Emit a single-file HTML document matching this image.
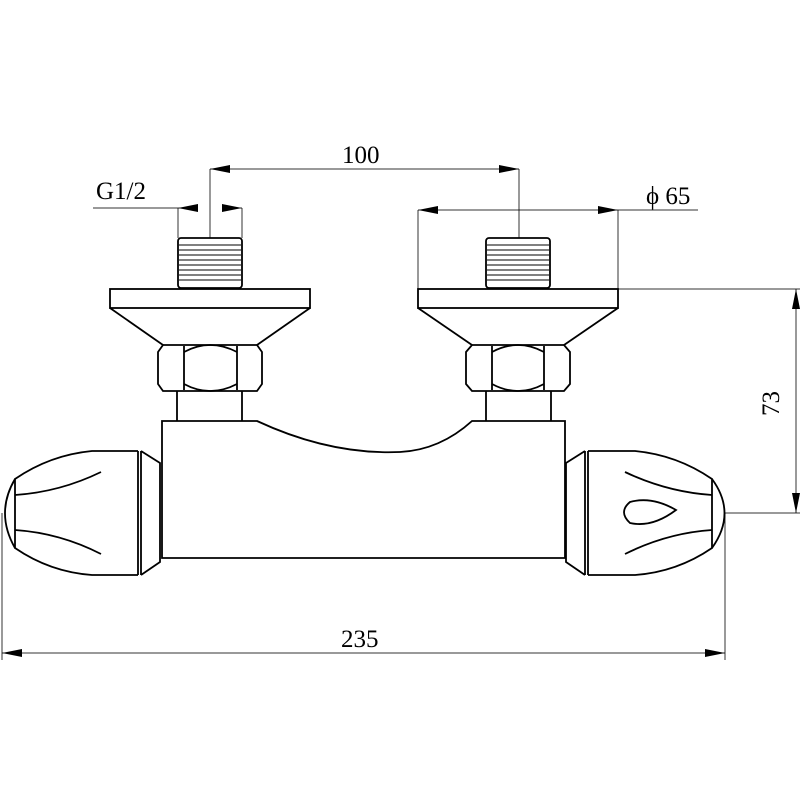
<!DOCTYPE html>
<html><head><meta charset="utf-8"><style>html,body{margin:0;padding:0;background:#fff}svg{display:block}</style></head><body>
<svg width="800" height="800" viewBox="0 0 800 800" xmlns="http://www.w3.org/2000/svg">
<defs>
<marker id="a" viewBox="0 0 20 8" refX="20" refY="4" markerWidth="20" markerHeight="8" markerUnits="userSpaceOnUse" orient="auto-start-reverse"><path d="M0,0 L20,4 L0,8 Z" fill="#000"/></marker>
</defs>
<g fill="none" stroke="#000" stroke-width="1.8">
<!-- left assembly -->
<rect x="178" y="238" width="64" height="50" rx="3"/>
<g stroke-width="1"><path d="M179,245H241M179,250H241M179,255H241M179,260H241M179,265H241M179,270H241M179,275H241M179,280H241"/></g>
<rect x="110" y="289" width="200" height="19"/>
<path d="M110,308 L163,345 M310,308 L257,345"/>
<path d="M163,345 H257 L262,352 V384 L257,391 H163 L158,384 V352 Z"/>
<path d="M184,346 V390 M237,346 V390"/>
<path d="M184,352 Q210,338 237,352 M184,384 Q210,398 237,384"/>
<path d="M177,391 V421 M242,391 V421"/>
<!-- right assembly -->
<rect x="486" y="238" width="64" height="50" rx="3"/>
<g stroke-width="1"><path d="M487,245H549M487,250H549M487,255H549M487,260H549M487,265H549M487,270H549M487,275H549M487,280H549"/></g>
<rect x="418" y="289" width="200" height="19"/>
<path d="M418,308 L472,345 M618,308 L564,345"/>
<path d="M472,345 H564 L570,352 V384 L564,391 H472 L466,384 V352 Z"/>
<path d="M492,346 V390 M544,346 V390"/>
<path d="M492,352 Q518,338 544,352 M492,384 Q518,398 544,384"/>
<path d="M486,391 V421 M551,391 V421"/>
<!-- body -->
<path d="M162,558 V421 H257 Q330,455 400,452 Q440,450 472,421 H565 V558 Z"/>
<!-- left knob -->
<path d="M138,451 V575 M141,451 V575"/>
<path d="M141,451 L160,463 V562 L141,575"/>
<path d="M138,451 H92 Q50,455 15,479 V548 Q50,572 92,575 H138"/>
<path d="M15,479 Q-5,513 15,548"/>
<path d="M15,495 Q60,492 101,472 M15,530 Q60,533 101,554"/>
<!-- right knob -->
<path d="M585,451 V575 M588,451 V575"/>
<path d="M585,451 L566,463 V562 L585,575"/>
<path d="M588,451 H635 Q677,455 712,479 V548 Q677,572 635,575 H588"/>
<path d="M712,479 Q737,513 712,548"/>
<path d="M712,495 Q667,492 625,472 M712,530 Q667,533 625,554"/>
<path d="M630,502 Q652,496 676,510 Q652,528 630,523 Q618,512 630,502 Z"/>
</g>
<g fill="none" stroke="#000" stroke-width="1" stroke-opacity="0.8">
<path d="M210,169 V238 M519,169 V238"/>
<path d="M210,169 H519" marker-start="url(#a)" marker-end="url(#a)"/>
<path d="M178,208 V238 M242,208 V238"/>
<path d="M93,208 H178"/>
<path d="M198,208 H178" marker-end="url(#a)"/>
<path d="M222,208 H242" marker-end="url(#a)"/>
<path d="M418,210 V289 M618,210 V289"/>
<path d="M418,210 H618" marker-start="url(#a)" marker-end="url(#a)"/>
<path d="M618,210 H698"/>
<path d="M618,289 H800 M725,513 H800"/>
<path d="M796,289 V513" marker-start="url(#a)" marker-end="url(#a)"/>
<path d="M2,513 V660 M725,513 V660"/>
<path d="M2,653 H725" marker-start="url(#a)" marker-end="url(#a)"/>
</g>
<g font-family="Liberation Serif, serif" font-size="25" fill="#000">
<text x="342" y="163">100</text>
<text x="96" y="199">G1/2</text>
<text x="646" y="204">ϕ 65</text>
<text x="341" y="647">235</text>
<text transform="translate(779,416) rotate(-90)">73</text>
</g>
</svg>
</body></html>
